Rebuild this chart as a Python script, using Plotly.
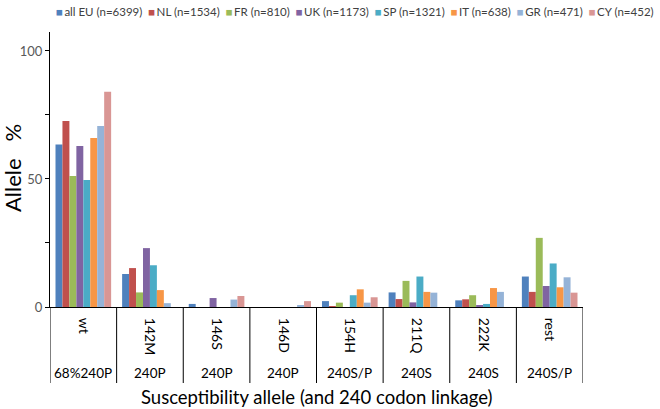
import plotly.graph_objects as go

alleles = ["wt", "142M", "146S", "146D", "154H", "211Q", "222K", "rest"]
linkage = ["68%240P", "240P", "240P", "240P", "240S/P", "240S", "240S", "240S/P"]

series_names = ["all EU (n=6399)", "NL (n=1534)", "FR (n=810)", "UK (n=1173)",
                "SP (n=1321)", "IT (n=638)", "GR (n=471)", "CY (n=452)"]
colors = ["#4F81BD", "#C0504D", "#9BBB59", "#8064A2",
          "#4BACC6", "#F79646", "#95B3D7", "#D99694"]

all_eu = [63.5, 12.9, 1.2, 0.0, 2.3, 5.7, 2.6, 11.9]
nl     = [72.6, 15.2, 0.0, 0.0, 0.3, 3.1, 3.0, 5.9]
fr     = [51.2, 5.7, 0.0, 0.0, 1.7, 10.2, 4.6, 27.0]
uk     = [62.9, 23.0, 3.5, 0.0, 0.0, 1.8, 0.5, 8.2]
sp     = [49.6, 16.3, 0.0, 0.0, 4.6, 11.9, 1.2, 17.0]
it     = [66.0, 6.6, 0.0, 0.0, 6.9, 5.9, 7.4, 7.7]
gr     = [70.7, 1.5, 2.9, 0.5, 1.7, 5.6, 5.9, 11.6]
cy     = [84.1, 0.0, 4.3, 2.3, 3.8, 0.0, 0.0, 5.6]
values = [all_eu, nl, fr, uk, sp, it, gr, cy]

y_ticks = [0, 25, 50, 75, 100]
y_tick_text = ["0", "", "50", "", "100"]

FONT = "Lato"

fig = go.Figure()
for name, col, vals in zip(series_names, colors, values):
    fig.add_trace(go.Bar(x=alleles, y=vals, name=name, marker_color=col,
                         marker_line_width=0, showlegend=False))

W, H = 660, 409
L, R, T, B = 50, 77, 32, 102
pw, ph = W - L - R, H - T - B

def py(px_y):
    # pixel y (from top) -> paper y
    return (H - B - px_y) / ph

def px(px_x):
    return (px_x - L) / pw

shapes = []
for i in range(len(alleles) + 1):
    shapes.append(dict(type="line", xref="x", yref="paper", x0=i - 0.5, x1=i - 0.5,
                       y0=0, y1=py(383), line=dict(color="black", width=1)))

annotations = []
for a, lk in zip(alleles, linkage):
    annotations.append(dict(x=a, xref="x", y=py(373), yref="paper", text=lk,
                            showarrow=False, xanchor="center", yanchor="middle",
                            font=dict(family=FONT, size=13.5, color="black")))
annotations.append(dict(x=0.5, xref="paper", y=py(397), yref="paper",
                        text="Susceptibility allele (and 240 codon linkage)",
                        showarrow=False, xanchor="center", yanchor="middle",
                        font=dict(family=FONT, size=18.5, color="black")))
annotations.append(dict(x=px(12), xref="paper", y=py(168), yref="paper",
                        text="Allele\u00a0\u00a0\u00a0%", textangle=-90,
                        showarrow=False, xanchor="center", yanchor="middle",
                        font=dict(family=FONT, size=22, color="black")))
legend_text = "\u00a0\u00a0".join(
    f"<span style='color:{c}'>■</span>\u2009{n}" for n, c in zip(series_names, colors))
annotations.append(dict(x=px(355), xref="paper", y=py(12), yref="paper",
                        text=legend_text, showarrow=False, xanchor="center",
                        yanchor="middle",
                        font=dict(family=FONT, size=11.5, color="#404040")))

fig.update_layout(
    width=W, height=H,
    margin=dict(l=L, r=R, t=T, b=B, pad=0),
    plot_bgcolor="white", paper_bgcolor="white",
    barmode="group", bargap=0.165, bargroupgap=0,
    font=dict(family=FONT, color="black"),
    shapes=shapes, annotations=annotations,
    xaxis=dict(range=[-0.5, 7.5], showline=True, linecolor="black", linewidth=1,
               ticks="", tickangle=90, ticklabelstandoff=7,
               tickfont=dict(family=FONT, size=14, color="black"),
               showgrid=False, zeroline=False),
    yaxis=dict(range=[0, 107.4], showline=True, linecolor="black", linewidth=1,
               ticks="outside", ticklen=4, tickcolor="black",
               tickvals=y_ticks, ticktext=y_tick_text,
               tickfont=dict(family=FONT, size=13, color="#595959"),
               showgrid=False, zeroline=False),
)

fig.write_html("out.html", config={"displayModeBar": False},
               post_script="document.body.style.margin='0';document.body.style.overflow='hidden';")
